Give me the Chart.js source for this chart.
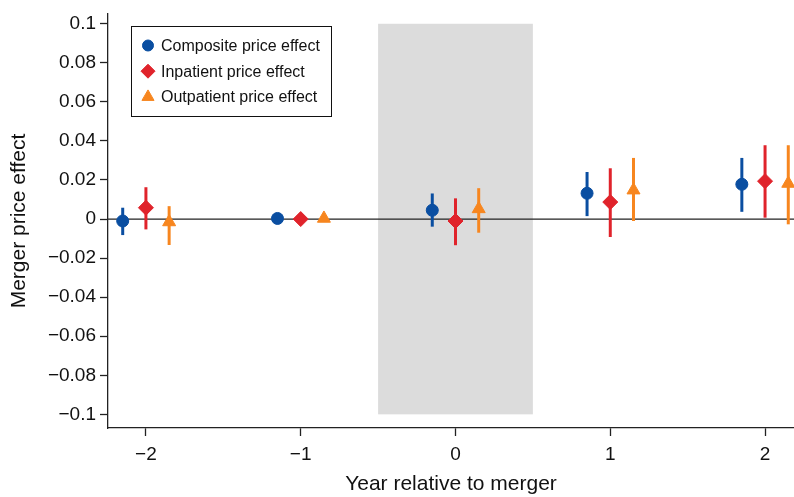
<!DOCTYPE html>
<html lang="en">
<head>
<meta charset="UTF-8">
<script src="https://cdn.jsdelivr.net/npm/chart.js"></script>
<title>Merger price effect</title>
<style>
  html, body { margin: 0; padding: 0; background: #fff; }
  #wrap { width: 794px; height: 497px; }
</style>
</head>
<body>
<div id="wrap"><canvas id="myChart"></canvas></div>
<script>
// data
const years = [-2, -1, 0, 1, 2];
const offset = 0.15;
const seriesNames = ['Composite price effect', 'Inpatient price effect', 'Outpatient price effect'];

const compositeEst = [-0.001, 0.0003, 0.0045, 0.0132, 0.0178];
const compositeLo  = [-0.0082, 0.0003, -0.0039, 0.0015, 0.0037];
const compositeHi  = [0.0058, 0.0003, 0.0131, 0.0241, 0.0313];

const inpatientEst = [0.0058, 0.0, -0.001, 0.0087, 0.0194];
const inpatientLo  = [-0.0053, 0.0, -0.0134, -0.0092, 0.0007];
const inpatientHi  = [0.0163, 0.0, 0.0106, 0.026, 0.0378];

const outpatientEst = [-0.0015, 0.0003, 0.0052, 0.0148, 0.0182];
const outpatientLo  = [-0.0133, 0.0003, -0.007, -0.001, -0.0027];
const outpatientHi  = [0.0066, 0.0003, 0.0158, 0.0313, 0.0378];

const xTicks = [-2, -1, 0, 1, 2];
const yTicks = [-0.1, -0.08, -0.06, -0.04, -0.02, 0, 0.02, 0.04, 0.06, 0.08, 0.1];
const shadeRange = [-0.5, 0.5];
const shadeY = [-0.1, 0.1];

const blue = '#0a4ea1';
const red = '#e0232b';
const orange = '#f7861f';
const font = '"Liberation Sans", Arial, sans-serif';

function pts(est, lo, hi, shift) {
  return years.map((yr, i) => ({ x: yr + shift, y: est[i], lo: lo[i], hi: hi[i] }));
}

const errorBars = {
  id: 'errorBars',
  beforeDatasetsDraw(chart) {
    const { ctx, scales: { x, y }, chartArea } = chart;
    // shaded merger year
    ctx.save();
    ctx.fillStyle = '#dcdcdc';
    const x0 = x.getPixelForValue(shadeRange[0]), x1 = x.getPixelForValue(shadeRange[1]);
    const y0 = y.getPixelForValue(shadeY[1]), y1 = y.getPixelForValue(shadeY[0]);
    ctx.fillRect(x0, y0, x1 - x0, y1 - y0);
    // zero line
    ctx.strokeStyle = '#222';
    ctx.lineWidth = 1.3;
    const z = y.getPixelForValue(0);
    ctx.beginPath();
    ctx.moveTo(chartArea.left, z);
    ctx.lineTo(chartArea.right, z);
    ctx.stroke();
    // error bars
    chart.data.datasets.forEach(ds => {
      ctx.strokeStyle = ds.backgroundColor;
      ctx.lineWidth = 3;
      ds.data.forEach(p => {
        if (p.hi === p.lo) return;
        const px = x.getPixelForValue(p.x);
        ctx.beginPath();
        ctx.moveTo(px, y.getPixelForValue(p.lo));
        ctx.lineTo(px, y.getPixelForValue(p.hi));
        ctx.stroke();
      });
    });
    ctx.restore();
  },
  afterDraw(chart) {
    // legend box inside plot
    const { ctx } = chart;
    ctx.save();
    ctx.strokeStyle = '#111';
    ctx.lineWidth = 1;
    ctx.strokeRect(131.5, 26.5, 200, 90);
    ctx.font = '16px ' + font;
    ctx.textBaseline = 'middle';
    chart.data.datasets.forEach((ds, i) => {
      const cy = 45.5 + i * 25.7;
      ctx.fillStyle = ds.backgroundColor;
      ctx.strokeStyle = ds.backgroundColor;
      Chart.helpers.drawPoint(ctx, { pointStyle: ds.pointStyle, radius: ds.pointRadius - 0.5, borderWidth: 1, rotation: 0 }, 148, cy);
      ctx.fillStyle = '#111';
      ctx.fillText(ds.label, 161, cy + 1);
    });
    ctx.restore();
  }
};

new Chart(document.getElementById('myChart'), {
  type: 'scatter',
  data: {
    datasets: [
      { label: seriesNames[0], data: pts(compositeEst, compositeLo, compositeHi, -offset),
        backgroundColor: blue, borderColor: blue, pointStyle: 'circle', pointRadius: 6 },
      { label: seriesNames[1], data: pts(inpatientEst, inpatientLo, inpatientHi, 0),
        backgroundColor: red, borderColor: red, pointStyle: 'rectRot', pointRadius: 7.5 },
      { label: seriesNames[2], data: pts(outpatientEst, outpatientLo, outpatientHi, offset),
        backgroundColor: orange, borderColor: orange, pointStyle: 'triangle', pointRadius: 7.5 }
    ]
  },
  options: {
    responsive: true,
    maintainAspectRatio: false,
    animation: false,
    layout: { autoPadding: false, padding: { top: 14, right: 0, left: 0, bottom: 0 } },
    plugins: { legend: { display: false }, tooltip: { enabled: false } },
    elements: { point: { borderWidth: 1 } },
    scales: {
      x: {
        type: 'linear',
        min: -2.245, max: 2.187,
        afterBuildTicks: s => { s.ticks = xTicks.map(v => ({ value: v })); },
        afterFit: s => { s.height = 69; s.paddingLeft = 0; s.paddingRight = 0; },
        grid: { drawOnChartArea: false, drawTicks: true, tickLength: 8, color: '#222', tickWidth: 1.3 },
        border: { display: true, color: '#222', width: 1.3 },
        ticks: {
          color: '#111', font: { family: font, size: 19 }, padding: 7,
          callback: v => (v < 0 ? '\u2212' + Math.abs(v) : String(v))
        },
        title: { display: true, text: 'Year relative to merger', color: '#111',
          font: { family: font, size: 21 }, padding: { top: 2, bottom: 0 } }
      },
      y: {
        min: -0.107, max: 0.105,
        afterBuildTicks: s => { s.ticks = yTicks.map(v => ({ value: v })); },
        afterFit: s => { s.width = 108; s.paddingTop = 0; s.paddingBottom = 0; },
        grid: { drawOnChartArea: false, drawTicks: true, tickLength: 8, color: '#222', tickWidth: 1.3 },
        border: { display: true, color: '#222', width: 1.3 },
        ticks: {
          color: '#111', font: { family: font, size: 19 }, padding: 4,
          callback: v => {
            const r = Math.round(v * 100) / 100;
            if (r === 0) return '0';
            return (r < 0 ? '\u2212' : '') + String(Math.abs(r));
          }
        },
        title: { display: true, text: 'Merger price effect', color: '#111',
          font: { family: font, size: 21 }, padding: { top: 7, bottom: 5 } }
      }
    }
  },
  plugins: [errorBars]
});
</script>
</body>
</html>
